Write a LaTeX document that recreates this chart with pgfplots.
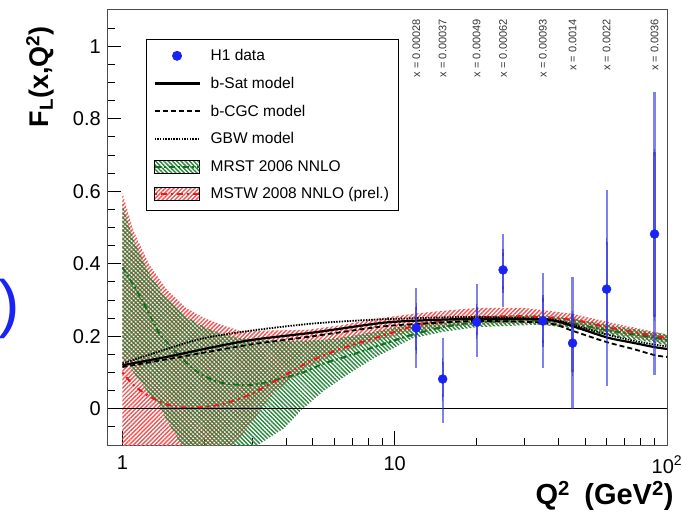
\documentclass[border=0pt]{standalone}
\usepackage{fontspec}
\setmainfont{Liberation Sans}
\usepackage{pgfplots}
\usepackage{pgfplotstable}
\pgfplotsset{compat=1.18}
\usetikzlibrary{patterns.meta}

\definecolor{hblue}{RGB}{25,35,245}
\definecolor{hbar}{RGB}{45,45,225}
\definecolor{mrst}{RGB}{40,135,60}
\definecolor{mrstline}{RGB}{20,110,30}
\definecolor{mstw}{RGB}{240,85,85}
\definecolor{mstwline}{RGB}{240,20,20}

\pgfplotsset{
  legline/.style={legend image code/.code={\draw[##1] (0pt,0pt) -- (45pt,0pt);}},
  legmark/.style={legend image code/.code={\draw[##1] plot coordinates {(22.5pt,0pt)};}},
  legmrst/.style={legend image code/.code={
    \fill[pattern={Lines[angle=-45, distance=3pt, line width=1.4pt]}, pattern color=mrst] (0pt,-6.5pt) rectangle (45pt,6.5pt);
    \draw[mrstline, line width=2pt, dash pattern=on 6pt off 3pt on 2pt off 3pt] (0pt,0pt) -- (45pt,0pt);}},
  legmstw/.style={legend image code/.code={
    \fill[pattern={Lines[angle=45, distance=3pt, line width=1.4pt]}, pattern color=mstw] (0pt,-6.5pt) rectangle (45pt,6.5pt);
    \draw[mstwline, line width=2pt, dash pattern=on 2pt off 4pt on 6pt off 4pt] (0pt,0pt) -- (45pt,0pt);}},
}

% H1 data: Q2, FL, stat+, stat-, tot+, tot-
\pgfplotstableread{
q f sp sm tp tm
12 0.223 0.058 0.061 0.110 0.111
15 0.082 0.047 0.050 0.113 0.122
20 0.239 0.041 0.036 0.105 0.096
25 0.383 0.047 0.053 0.099 0.103
35 0.242 0.063 0.061 0.132 0.130
45 0.181 0.080 0.080 0.183 0.181
60 0.330 0.130 0.126 0.273 0.267
90 0.482 0.226 0.229 0.392 0.389
}\hone

% MSTW 2008 band outline: upper edge, then lower edge reversed
\pgfplotstableread{
q y
1.0 0.595
1.1 0.490
1.25 0.400
1.45 0.330
1.7 0.280
2.0 0.250
2.3 0.232
2.7 0.215
3.2 0.215
3.6 0.216
4.8 0.218
6.3 0.230
8.9 0.250
11.7 0.262
15 0.270
20 0.278
30 0.278
45 0.262
60 0.240
100 0.205
100 0.180
60 0.210
45 0.225
30 0.235
20 0.232
15 0.225
11.7 0.215
8.9 0.190
6.3 0.155
4.8 0.115
3.6 0.045
3.0 -0.035
2.6 -0.095
2.3 -0.12
2.0 -0.15
1.7 -0.19
1.45 -0.26
1.25 -0.33
1.1 -0.40
1.0 -0.45
}\mstwband
\pgfplotstableread{
q c
1.0 0.100
1.1 0.065
1.25 0.035
1.45 0.012
1.7 0.003
2.0 0.005
2.3 0.012
2.6 0.024
3.0 0.042
3.6 0.075
4.8 0.128
6.3 0.165
8.9 0.200
11.7 0.228
15 0.243
20 0.252
30 0.255
45 0.245
60 0.225
100 0.195
}\mstwc

% MRST 2006 band outline: upper edge, then lower edge reversed
\pgfplotstableread{
q y
1.0 0.565
1.1 0.465
1.25 0.375
1.45 0.305
1.7 0.255
2.0 0.225
2.3 0.207
2.7 0.195
3.2 0.190
3.9 0.187
4.6 0.188
5.5 0.190
6.9 0.200
8.4 0.212
11.7 0.235
15 0.245
20 0.255
34 0.258
45 0.250
57 0.235
90 0.210
100 0.205
100 0.175
90 0.182
57 0.205
45 0.222
34 0.232
20 0.225
15 0.212
11.7 0.195
8.4 0.14
6.9 0.10
5.5 0.05
4.6 0.0
3.9 -0.055
3.0 -0.11
2.3 -0.15
1.9 -0.14
1.65 -0.10
1.45 -0.03
1.36 0.01
1.2 0.06
1.1 0.10
1.0 0.14
}\mrstband
\pgfplotstableread{
q c
1.0 0.390
1.1 0.340
1.2 0.290
1.36 0.210
1.45 0.185
1.65 0.140
1.9 0.100
2.3 0.072
3.0 0.066
3.9 0.085
4.6 0.100
5.5 0.125
6.9 0.148
8.4 0.170
11.7 0.205
15 0.225
20 0.238
34 0.243
45 0.235
57 0.220
90 0.196
100 0.190
}\mrstc

% models: Q2, b-Sat, b-CGC, GBW
\pgfplotstableread{
q bsat bcgc gbw
1.0 0.120 0.115 0.125
1.5 0.145 0.138 0.168
2.0 0.165 0.155 0.195
3.0 0.190 0.178 0.216
5.0 0.210 0.200 0.235
8.0 0.232 0.222 0.245
10 0.240 0.230 0.248
15 0.246 0.238 0.252
20 0.248 0.242 0.253
30 0.248 0.240 0.250
38 0.244 0.234 0.246
45 0.228 0.215 0.232
60 0.197 0.184 0.205
75 0.182 0.165 0.188
90 0.170 0.148 0.177
100 0.165 0.143 0.172
}\models

\begin{document}
\begin{tikzpicture}
\begin{axis}[
  at={(0pt,0pt)}, anchor=south west,
  scale only axis, width=559pt, height=435pt,
  xmode=log, xmin=0.885, xmax=100, ymin=-0.1, ymax=1.1,
  xtick={1,10,100}, xticklabels={1,10,10\textsuperscript{2}},
  minor xtick={2,3,4,5,6,7,8,9,20,30,40,50,60,70,80,90},
  ytick={0,0.2,0.4,0.6,0.8,1},
  minor ytick={-0.05,0.05,0.1,0.15,0.25,0.3,0.35,0.45,0.5,0.55,0.65,0.7,0.75,0.85,0.9,0.95,1.05},
  tick pos=left, tick align=inside,
  major tick length=13.5pt, minor tick length=7.5pt,
  axis line style={black!70, line width=1pt},
  tick style={black, line width=0.9pt},
  /pgf/number format/assume math mode=true,
  yticklabel style={font=\fontsize{20}{24}\selectfont, inner sep=0pt, xshift=-7pt},
  xticklabel style={font=\fontsize{20}{24}\selectfont, inner sep=0pt, yshift=-11pt},
  xlabel={\textbf{Q\textsuperscript{2}\,\,\,(GeV\textsuperscript{2})}},
  xlabel style={at={(axis description cs:1.012,-0.117)}, anchor=east, font=\fontsize{29}{34}\selectfont, inner sep=0pt},
  ylabel={\textbf{F\textsubscript{L}(x,Q\textsuperscript{2})}},
  ylabel style={at={(axis description cs:-0.1216,0.847)}, anchor=center, font=\fontsize{27}{32}\selectfont, inner sep=0pt},
  legend style={at={(axis description cs:0.068,0.9333)}, anchor=north west,
    draw=black, line width=0.9pt, fill=white,
    font=\fontsize{15.5}{18}\selectfont, inner xsep=7pt, inner ysep=8pt,
    row sep=11pt, /tikz/every odd column/.append style={column sep=8pt}},
  legend cell align=left,
]
% bands
\addplot[draw=none, pattern={Lines[angle=45, distance=3pt, line width=1.4pt]}, pattern color=mstw, forget plot] table[x=q, y=y] {\mstwband} -- cycle;
\addplot[draw=none, pattern={Lines[angle=-45, distance=3pt, line width=1.4pt]}, pattern color=mrst, forget plot] table[x=q, y=y] {\mrstband} -- cycle;
% central lines
\addplot[mrstline, line width=2pt, dash pattern=on 6pt off 3pt on 2pt off 3pt, smooth, forget plot] table[x=q, y=c] {\mrstc};
\addplot[mstwline, line width=2pt, dash pattern=on 2pt off 4pt on 6pt off 4pt, smooth, forget plot] table[x=q, y=c] {\mstwc};
% models
\addplot[black, line width=2.2pt, smooth, forget plot] table[x=q, y=bsat] {\models};
\addplot[black, line width=1.8pt, dash pattern=on 5pt off 3pt, smooth, forget plot] table[x=q, y=bcgc] {\models};
\addplot[black, line width=1.8pt, dash pattern=on 1.5pt off 1.2pt, smooth, forget plot] table[x=q, y=gbw] {\models};
% zero line
\addplot[black, line width=1.2pt, forget plot] coordinates {(0.885,0) (100,0)};
% data: total errors
\addplot[draw=none, mark=none, forget plot,
  error bars/.cd, y dir=both, y explicit, error mark=none,
  error bar style={draw=hbar, line width=2.2pt, opacity=0.6}]
  table[x=q, y=f, y error plus=tp, y error minus=tm] {\hone};
% data: stat errors
\addplot[draw=none, mark=none, forget plot,
  error bars/.cd, y dir=both, y explicit, error mark=-,
  error mark options={draw=hbar, line width=1.3pt, mark size=3.5pt},
  error bar style={draw=hbar, line width=2.2pt, opacity=0.6}]
  table[x=q, y=f, y error plus=sp, y error minus=sm] {\hone};
\addplot[only marks, mark=*, mark size=4.5pt, color=hblue, forget plot] table[x=q, y=f] {\hone};

% legend
\addlegendimage{legmark, only marks, mark=*, mark size=4.5pt, color=hblue}
\addlegendentry{H1 data}
\addlegendimage{legline, black, line width=2.2pt}
\addlegendentry{b-Sat model}
\addlegendimage{legline, black, line width=1.8pt, dash pattern=on 5pt off 3pt}
\addlegendentry{b-CGC model}
\addlegendimage{legline, black, line width=1.8pt, dash pattern=on 1.5pt off 1.2pt}
\addlegendentry{GBW model}
\addlegendimage{legmrst}
\addlegendentry{MRST 2006 NNLO}
\addlegendimage{legmstw}
\addlegendentry{MSTW 2008 NNLO (prel.)}

% x labels at top
\foreach \qq/\xx in {12/0.00028,15/0.00037,20/0.00049,25/0.00062,35/0.00093,45/0.0014,60/0.0022,90/0.0036}{
  \edef\temp{\noexpand\node[rotate=90, anchor=east, inner sep=0pt, text=black!80, font=\noexpand\fontsize{11}{13}\noexpand\selectfont] at (axis cs:\qq,1.075) {x = \xx};}
  \temp
}
\end{axis}
\node[anchor=mid east, inner sep=0pt, text=hblue, font=\fontsize{64}{72}\selectfont] at (-88pt,122pt) {)};
\pgfresetboundingbox
\path[use as bounding box] (-108pt,-74pt) rectangle (574pt,445pt);
\end{tikzpicture}
\end{document}
